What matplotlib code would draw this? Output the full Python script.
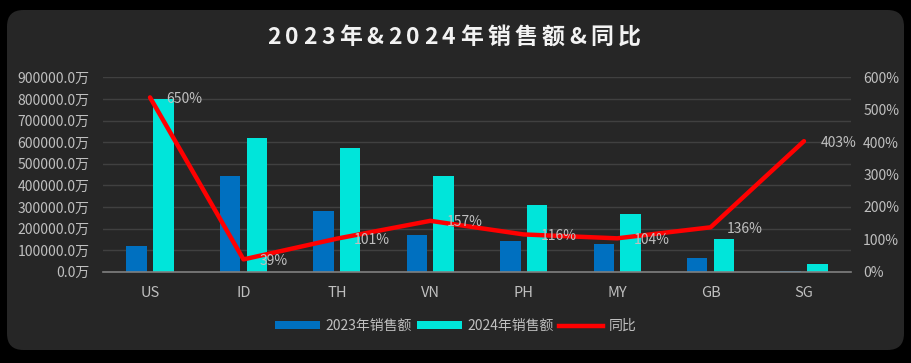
import matplotlib
matplotlib.use("Agg")
import matplotlib.pyplot as plt
import numpy as np
from matplotlib.patches import FancyBboxPatch, Patch
from matplotlib.lines import Line2D
from matplotlib.ticker import FuncFormatter, MultipleLocator

plt.rcParams['font.family'] = ['Noto Sans CJK SC', 'DejaVu Sans']

categories = ['US', 'ID', 'TH', 'VN', 'PH', 'MY', 'GB', 'SG']
sales_2023 = [120000, 443000, 281000, 168000, 142000, 130000, 62000, 4000]
sales_2024 = [800000, 617000, 571000, 442000, 307000, 269000, 151000, 36000]
yoy_line = [538, 38, 102, 157, 115, 103, 137, 403]
yoy_labels = ['650%', '39%', '101%', '157%', '116%', '104%', '136%', '403%']
title = '2023年&2024年销售额&同比'

C23 = '#0070C0'
C24 = '#00E5DA'
CL = '#FF0000'
BG = '#262626'
TXT = '#BFBFBF'

W, H = 912, 363
fig = plt.figure(figsize=(W / 100, H / 100), dpi=100, facecolor='black')

panel = FancyBboxPatch((7 / W, 13 / H), (904 - 7) / W, (353 - 13) / H,
                       boxstyle="round,pad=0,rounding_size=0.018",
                       transform=fig.transFigure, facecolor=BG, edgecolor='none',
                       mutation_aspect=W / H, zorder=-5)
fig.patches.append(panel)

ax = fig.add_axes([103.3 / W, 91.3 / H, 747.4 / W, 194.4 / H])
ax.set_facecolor('none')
x = np.arange(len(categories))
bw = 0.22
off = 0.143
ax.bar(x - off, sales_2023, width=bw, color=C23, zorder=2)
ax.bar(x + off, sales_2024, width=bw, color=C24, zorder=2)
ax.set_xlim(-0.5, len(categories) - 0.5)
ax.set_ylim(0, 900000)
ax.yaxis.set_major_locator(MultipleLocator(100000))
ax.yaxis.set_major_formatter(FuncFormatter(lambda v, p: f"{v:.1f}万"))
ax.grid(axis='y', color='#404040', linewidth=1, zorder=0)
ax.set_axisbelow(True)
for s in ['top', 'right', 'left']:
    ax.spines[s].set_visible(False)
ax.spines['bottom'].set_color('#808080')
ax.spines['bottom'].set_linewidth(1.2)
ax.spines['bottom'].set_zorder(3)
ax.set_xticks(x)
ax.set_xticklabels(categories)
ax.tick_params(axis='both', length=0, colors=TXT, labelsize=10)
ax.tick_params(axis='x', pad=10, labelsize=10.5)
ax.tick_params(axis='y', pad=10)

ax2 = ax.twinx()
ax2.set_ylim(0, 600)
ax2.yaxis.set_major_locator(MultipleLocator(100))
ax2.yaxis.set_major_formatter(FuncFormatter(lambda v, p: f"{v:.0f}%"))
for s in ax2.spines.values():
    s.set_visible(False)
ax2.tick_params(axis='y', length=0, colors=TXT, labelsize=10, pad=9)
ax2.plot(x, yoy_line, color=CL, linewidth=3.2, zorder=5, solid_capstyle='round')
for xi, yv, lab in zip(x, yoy_line, yoy_labels):
    ax2.annotate(lab, (xi, yv), xytext=(12, -1), textcoords='offset points',
                 ha='left', va='center', color=TXT, fontsize=10, zorder=7)

# title with letter spacing (per-character advances)
renderer = fig.canvas.get_renderer()
spacing = 4.5
tsize = 16.5
tweight = 'bold'
probe = fig.text(0, 0, '', fontsize=tsize, fontweight=tweight)
def _w(s):
    probe.set_text(s)
    return probe.get_window_extent(renderer).width
adv = [_w(ch + ch) - _w(ch) for ch in title]
probe.remove()
total = sum(adv) + spacing * (len(title) - 1)
xc = 454 - total / 2
for ch, a in zip(title, adv):
    fig.text((xc + a / 2) / W, 1 - 37 / H, ch, ha='center', va='center',
             color='#F2F2F2', fontsize=tsize, fontweight=tweight)
    xc += a + spacing

handles = [Patch(facecolor=C23, edgecolor='none'),
           Patch(facecolor=C24, edgecolor='none'),
           Line2D([0], [0], color=CL, linewidth=3.2)]
leg = fig.legend(handles, ['2023年销售额', '2024年销售额', '同比'], loc='center',
                 bbox_to_anchor=(456 / W, 1 - 326 / H), ncol=3, frameon=False,
                 fontsize=10, labelcolor=TXT, handlelength=3.2, handleheight=0.5,
                 handletextpad=0.4, columnspacing=0.4)

fig.savefig('out.png', dpi=100, facecolor='black')
